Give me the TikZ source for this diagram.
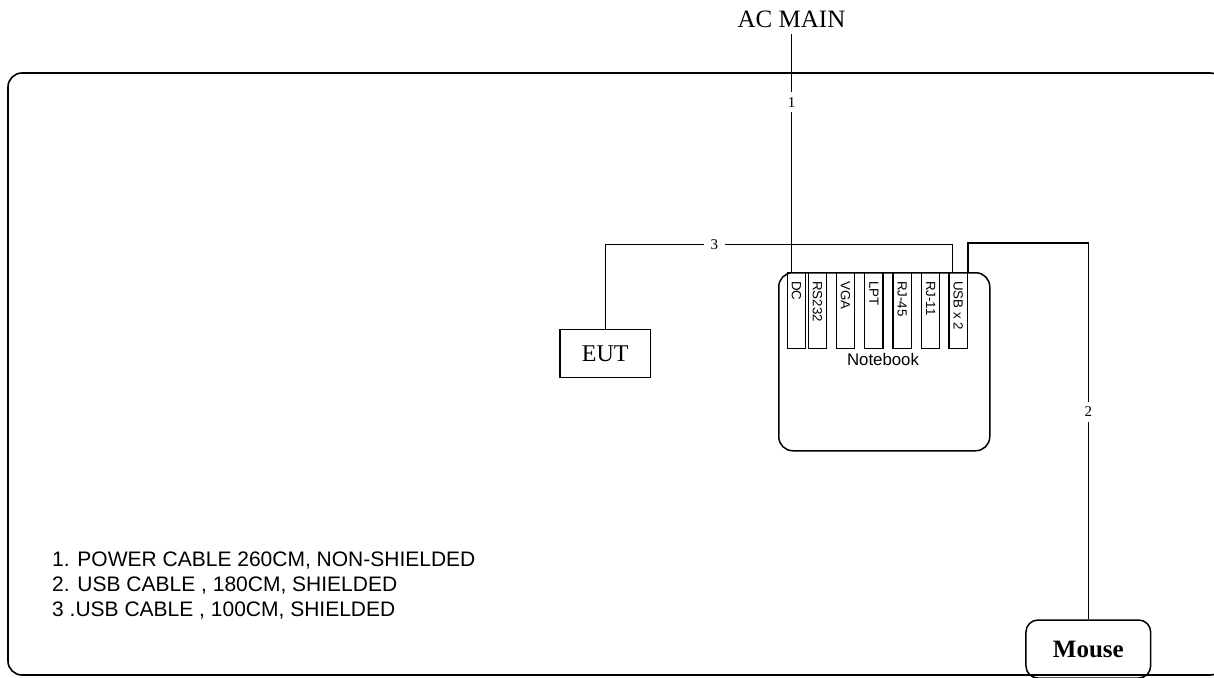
\documentclass[tikz,border=0pt]{standalone}
\usepackage{fontspec}
\setmainfont{Liberation Serif}
\newfontfamily\arialfont{Liberation Sans}
\usetikzlibrary{calc}

\tikzset{
  box/.style={draw, line width=1.5pt, inner sep=0pt},
  port/.style={draw, line width=1.3pt, minimum width=18.4pt, minimum height=76pt, inner sep=0pt, anchor=north west},
  portlbl/.style={rotate=-90, anchor=west, inner sep=0pt, font=\arialfont\fontsize{13.3}{14}\selectfont},
  cable/.style={line width=1.5pt},
  cablenum/.style={fill=white, inner xsep=7pt, inner ysep=5pt, font=\fontsize{15}{16}\selectfont},
}

\begin{document}
\begin{tikzpicture}[x=1pt, y=-1pt]
  \useasboundingbox (0,0) rectangle (1214,677);
  \clip (0,0) rectangle (1214,677);
  % test room
  \draw[line width=1.6pt, rounded corners=14pt] (8,73) rectangle (1224,675);

  % AC main
  \node[font=\fontsize{25}{26}\selectfont, inner xsep=0pt, inner ysep=6pt, anchor=base] (acmain) at (791.5,27.5) {AC MAIN};

  % Notebook and its ports
  \node[box, rounded corners=14pt, minimum width=211pt, minimum height=178pt, anchor=north west] (nb) at (778,272) {};
  \node[font=\arialfont\fontsize{16.8}{18}\selectfont, inner sep=0pt, anchor=base] (nblbl) at (883,365) {Notebook};
  \foreach \px/\nm/\txt in {786.7/p1/DC, 807.7/p2/RS232, 835.7/p3/VGA, 864/p4/LPT, 892.3/p5/RJ-45, 920.7/p6/RJ-11, 948.3/p7/USB x 2} {
    \node[port] (\nm) at (\px,272) {};
    \node[portlbl] at ($(\nm.north)+(0,9)$) {\txt};
  }

  % EUT and Mouse
  \node[box, minimum width=90.7pt, minimum height=48.4pt, font=\fontsize{24}{26}\selectfont] (eut) at (605.3,353.5) {EUT};
  \node[box, rounded corners=12pt, minimum width=124.7pt, minimum height=58pt, font=\bfseries\fontsize{25}{26}\selectfont] (mouse) at (1088.3,649) {Mouse};

  % cables
  \draw[cable] (acmain.south) -- node[cablenum, pos=0.287] {1} (acmain.south |- p1.north);
  \coordinate (c3) at ($(p7.north west)+(4.4,-27.7)$);
  \draw[cable] (eut.north) |- node[cablenum, pos=0.657] {3} (c3) -- (c3 |- p7.north);
  \coordinate (c2) at ($(p7.north east)+(0,-29)$);
  \draw[cable] (p7.north east) -- (c2) -| node[cablenum, pos=0.724] {2} (mouse.north);

  % cable list
  \node[anchor=north west, inner sep=0pt, align=left, font=\arialfont\fontsize{21}{25}\selectfont] (legend) at (52,551.7) {1. POWER CABLE 260CM, NON-SHIELDED\\ 2. USB CABLE , 180CM, SHIELDED\\ 3 .USB CABLE , 100CM, SHIELDED};
\end{tikzpicture}
\end{document}
